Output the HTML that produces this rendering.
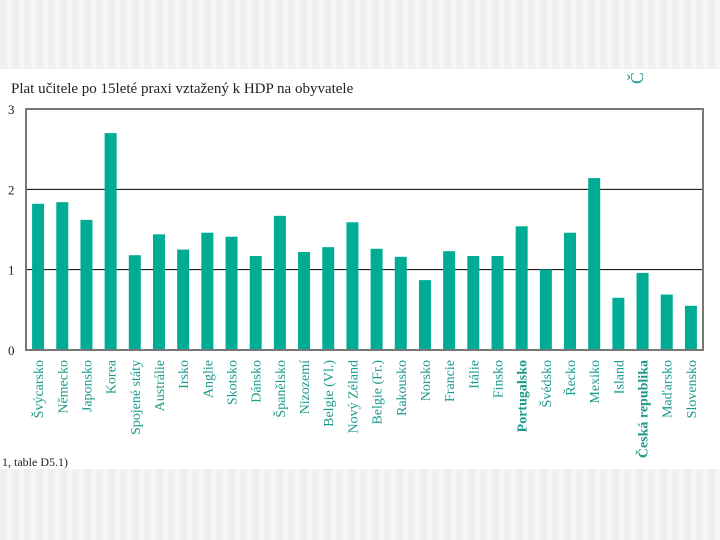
<!DOCTYPE html>
<html><head><meta charset="utf-8"><style>
body{margin:0;width:720px;height:540px;overflow:hidden;background:#fff;font-family:"Liberation Serif",serif}
.band{position:absolute;left:0;width:720px;background:repeating-linear-gradient(90deg,#efefef 0 7px,#f6f6f6 7px 12px)}
</style></head><body>
<div class="band" style="top:0;height:69px"></div>
<div class="band" style="top:469px;height:71px"></div>
<svg width="720" height="540" style="position:absolute;left:0;top:0">
<text x="11" y="93" font-size="15" fill="#222">Plat učitele po 15leté praxi vztažený k HDP na obyvatele</text>
<text x="643" y="84" font-size="18" fill="#1a9a8a" transform="rotate(-90 643 84)">Č</text>
<text x="2" y="466" font-size="12" fill="#222">1, table D5.1)</text>
<g id="g"></g>
</svg>
<script>
const categories=["Švýcarsko","Německo","Japonsko","Korea","Spojené státy","Austrálie","Irsko","Anglie","Skotsko","Dánsko","Španělsko","Nizozemí","Belgie (Vl.)","Nový Zéland","Belgie (Fr.)","Rakousko","Norsko","Francie","Itálie","Finsko","Portugalsko","Švédsko","Řecko","Mexiko","Island","Česká republika","Maďarsko","Slovensko"];
const values=[1.82,1.84,1.62,2.70,1.18,1.44,1.25,1.46,1.41,1.17,1.67,1.22,1.28,1.59,1.26,1.16,0.87,1.23,1.17,1.17,1.54,1.0,1.46,2.14,0.65,0.96,0.69,0.55];
const ticks=[0,1,2,3];
const bold=["Česká republika","Portugalsko"];
const NS="http://www.w3.org/2000/svg",g=document.getElementById('g');
const L=26,R=703,T=109,B=350,yMax=3;
const y=v=>B-(v/yMax)*(B-T);
const step=(R-L)/categories.length;
const x=i=>L+step*(i+0.5);
function mk(t,a){const e=document.createElementNS(NS,t);for(const k in a)e.setAttribute(k,a[k]);g.appendChild(e);return e;}
ticks.forEach(t=>{
 if(t>0&&t<yMax){const l=mk('line',{x1:L,x2:R,y1:y(t),y2:y(t),stroke:'#000','stroke-width':1});
 
 }
 const tx=mk('text',{x:8,y:y(t)+5,'font-size':13,fill:'#222'});tx.textContent=t;
 
 
});
values.forEach((v,i)=>{
 const r=mk('rect',{x:x(i)-6,y:y(v),width:12,height:B-y(v),fill:'#00ad94'});
 
 
 const tx=mk('text',{x:0,y:0,'font-size':14,fill:'#1a9a8a','text-anchor':'end','font-weight':bold.includes(categories[i])?'bold':'normal',transform:`translate(${x(i)+5},${B+10}) rotate(-90)`});
 tx.textContent=categories[i];
 
 
});
const f=mk('rect',{x:L,y:T,width:R-L,height:B-T,fill:'none',stroke:'#777','stroke-width':2});


</script>
</body></html>
